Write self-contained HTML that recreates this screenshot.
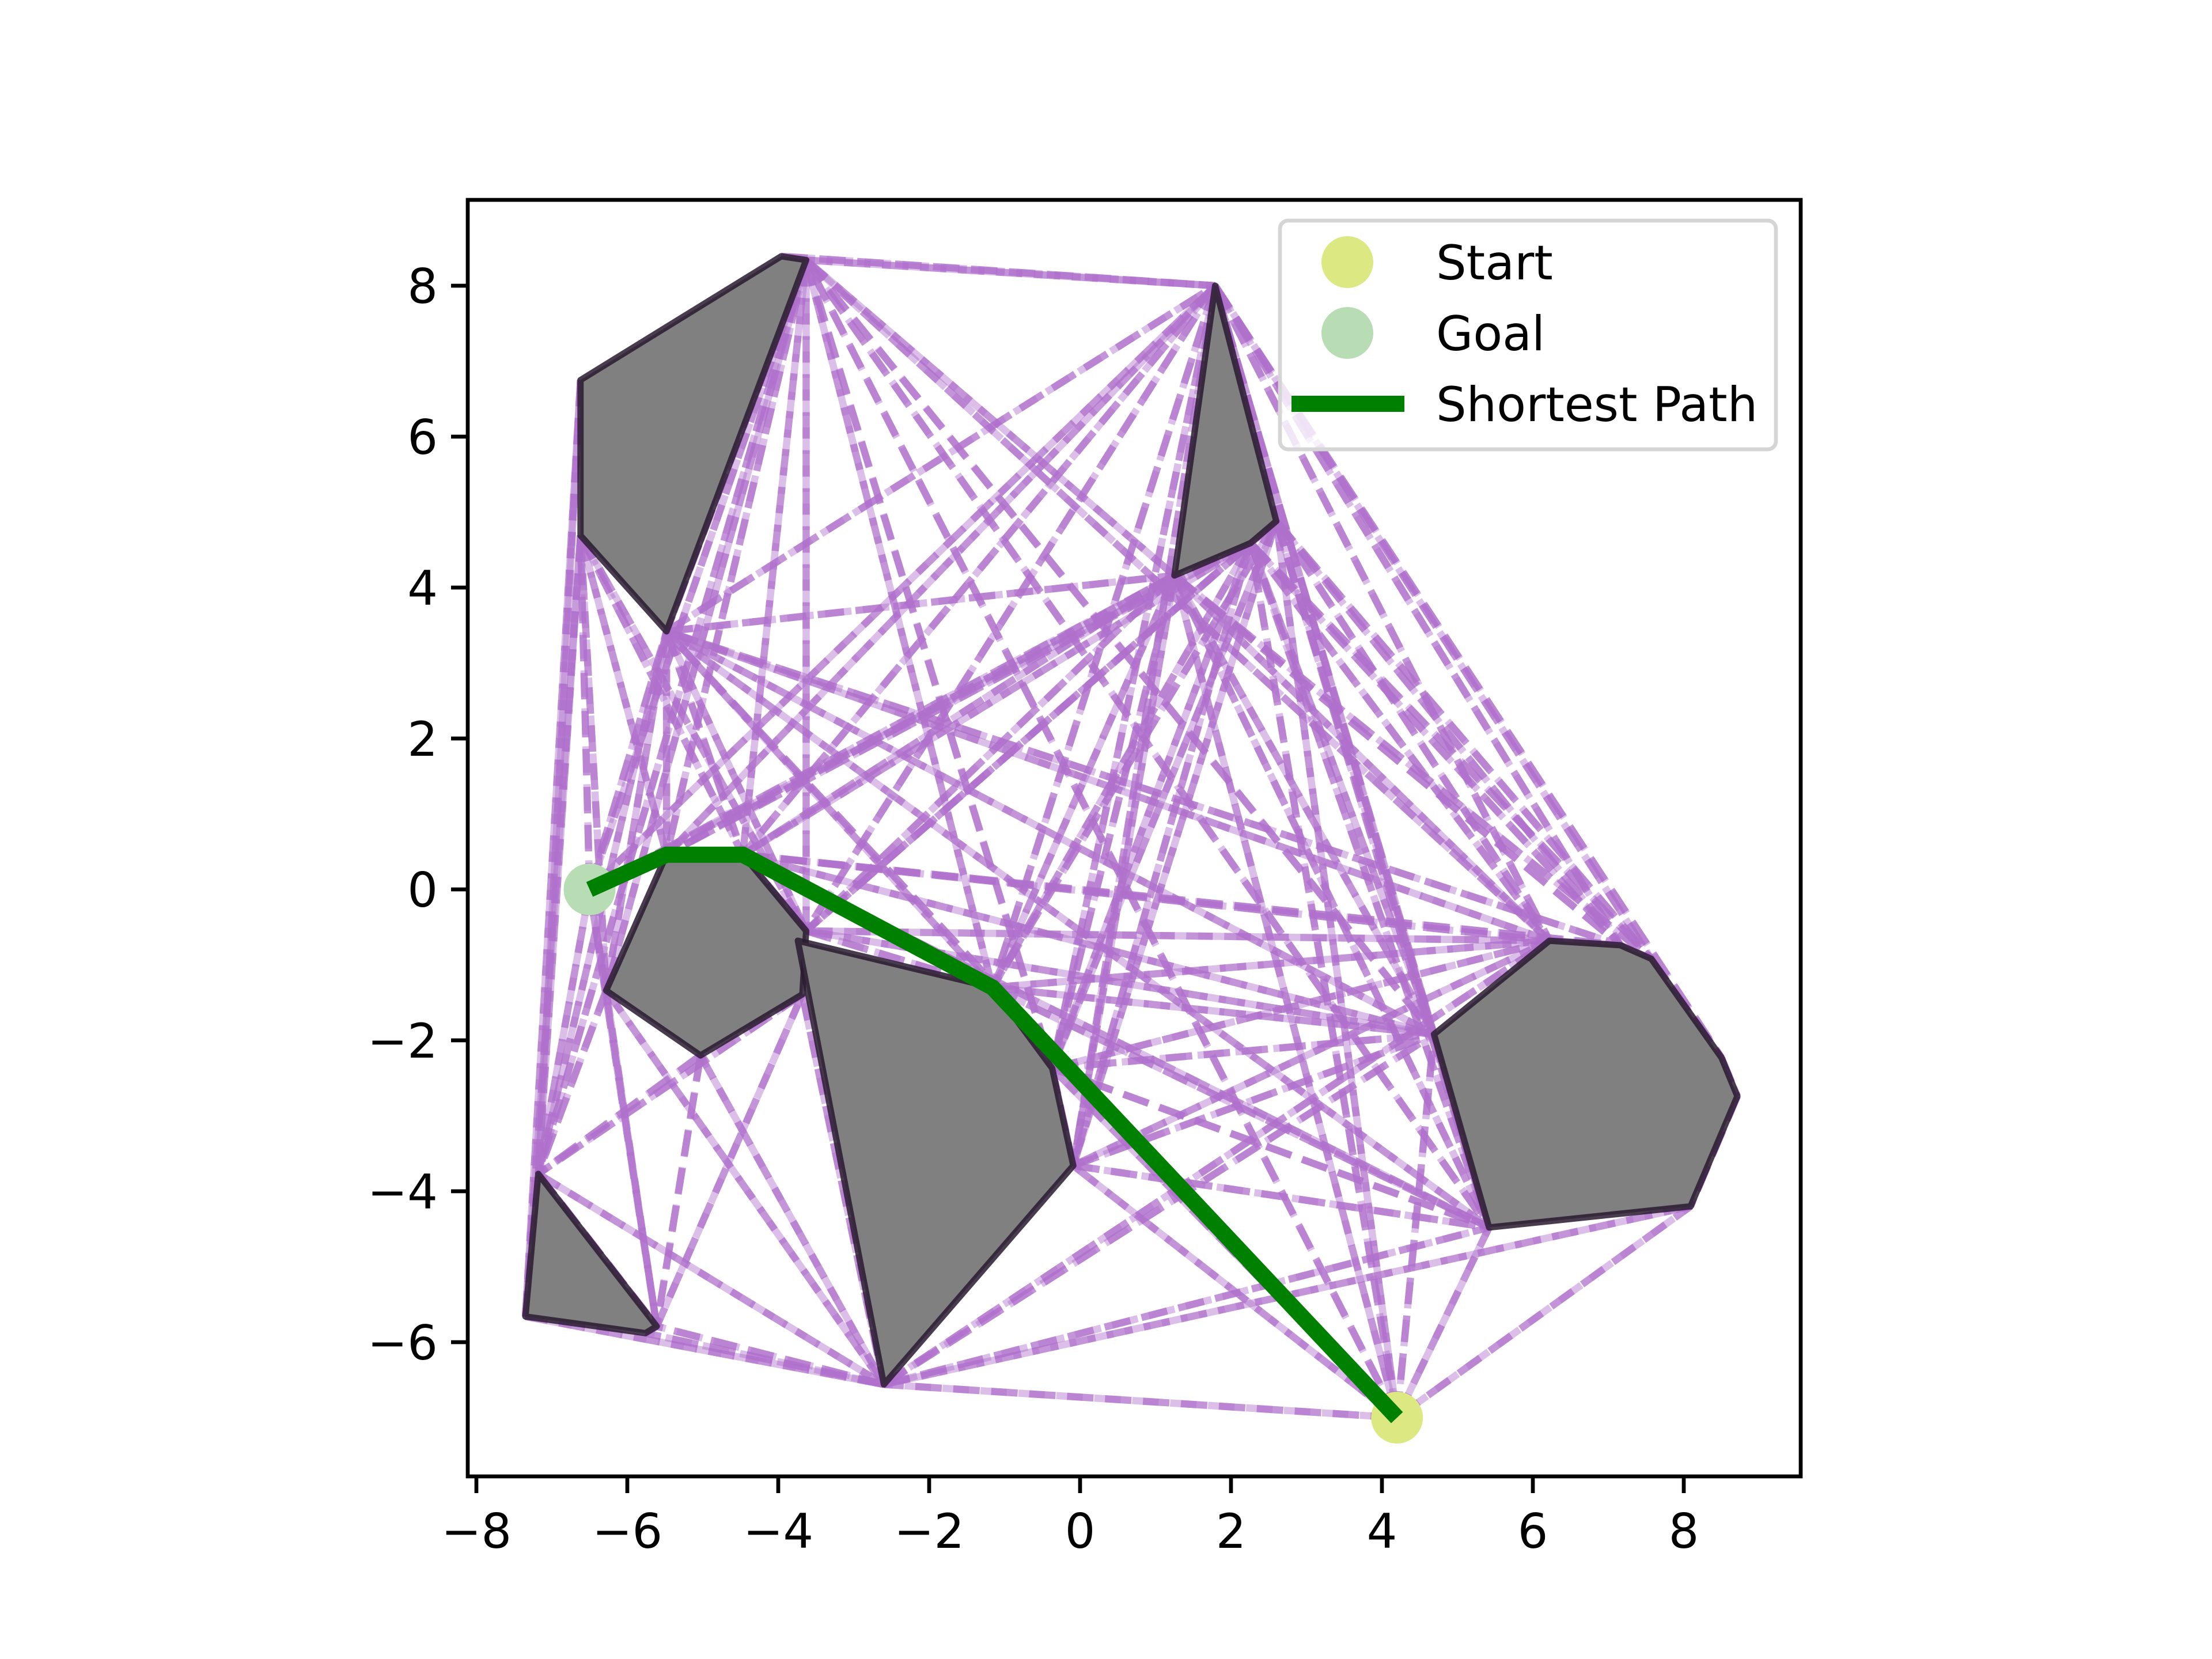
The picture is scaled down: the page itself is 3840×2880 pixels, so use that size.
<!DOCTYPE html>
<html><head><meta charset="utf-8"><style>
html,body{margin:0;padding:0;background:#fff;}
svg{display:block;}
text{font-family:"DejaVu Sans","Liberation Sans",sans-serif;}
</style></head><body>
<svg id="chart" width="3840" height="2880" viewBox="0 0 3840 2880" xmlns="http://www.w3.org/2000/svg">
<defs><clipPath id="clip"><rect x="812" y="347" width="2314" height="2216"/></clipPath></defs>
<rect x="0" y="0" width="3840" height="2880" fill="#fff"/>
<g id="edges" clip-path="url(#clip)"></g>
<g id="obstacles" clip-path="url(#clip)"></g>
<g id="pathg" clip-path="url(#clip)"></g>
<rect x="812" y="347" width="2314" height="2216" fill="none" stroke="#000" stroke-width="6.7"/>
<g id="xticks"></g>
<g id="yticks"></g>
<g>
  <rect x="2222" y="383" width="861" height="397" rx="14" fill="#fff" fill-opacity="0.8" stroke="#d5d5d5" stroke-width="6.7"/>
  <ellipse cx="2339" cy="455" rx="45" ry="45" fill="#dce882"/>
  <text x="2493" y="485" font-size="83">Start</text>
  <ellipse cx="2339" cy="578" rx="45" ry="45" fill="#b8dcb4"/>
  <text x="2493" y="608" font-size="83">Goal</text>
  <line x1="2242" y1="701" x2="2438" y2="701" stroke="#008000" stroke-width="28"/>
  <text x="2493" y="731" font-size="83">Shortest Path</text>
</g>
</svg>
<script>
const obs1=[[-6.62,6.75],[-3.96,8.39],[-3.63,8.34],[-5.48,3.42],[-6.62,4.69]];
const obs2=[[1.79,8.0],[2.60,4.88],[2.26,4.59],[1.25,4.16]];
const obs3=[[-5.48,0.46],[-4.47,0.46],[-3.63,-0.55],[-3.68,-1.39],[-5.03,-2.20],[-6.28,-1.34]];
const obs4=[[-3.74,-0.68],[-1.16,-1.30],[-0.37,-2.37],[-0.09,-3.66],[-2.60,-6.56]];
const obs5=[[-7.18,-3.77],[-5.61,-5.79],[-5.76,-5.88],[-7.35,-5.66]];
const obs6=[[4.69,-1.92],[6.22,-0.68],[7.16,-0.74],[7.57,-0.92],[8.50,-2.23],[8.71,-2.74],[8.09,-4.20],[5.42,-4.48]];
const startPt=[4.2,-7.0];
const goalPt=[-6.5,0.0];
const pathPts=[[-6.5,0.0],[-5.48,0.46],[-4.47,0.46],[-1.16,-1.30],[4.2,-7.0]];
const xTicks=[-8,-6,-4,-2,0,2,4,6,8];
const yTicks=[-6,-4,-2,0,2,4,6,8];

const U=131, X0=1875, Y0=1544;
const sx=v=>X0+v*U, sy=v=>Y0-v*U;
const NS="http://www.w3.org/2000/svg";
function mk(tag,attrs,parent){const e=document.createElementNS(NS,tag);for(const k in attrs)e.setAttribute(k,attrs[k]);parent.appendChild(e);return e;}

const polys=[obs1,obs2,obs3,obs4,obs5,obs6];
function cross(o,a,b){return (a[0]-o[0])*(b[1]-o[1])-(a[1]-o[1])*(b[0]-o[0]);}
function same(p,q){return Math.abs(p[0]-q[0])<1e-9&&Math.abs(p[1]-q[1])<1e-9;}
function properX(a,b,c,d){
  if(same(a,c)||same(a,d)||same(b,c)||same(b,d))return false;
  const d1=cross(c,d,a),d2=cross(c,d,b),d3=cross(a,b,c),d4=cross(a,b,d);
  return ((d1>0&&d2<0)||(d1<0&&d2>0))&&((d3>0&&d4<0)||(d3<0&&d4>0));
}
function inside(p,poly){let c=false;for(let i=0,j=poly.length-1;i<poly.length;j=i++){const a=poly[i],b=poly[j];if((a[1]>p[1])!=(b[1]>p[1])&&p[0]<(b[0]-a[0])*(p[1]-a[1])/(b[1]-a[1])+a[0])c=!c;}return c;}
function visible(a,b){
  for(const poly of polys){
    for(let i=0;i<poly.length;i++){if(properX(a,b,poly[i],poly[(i+1)%poly.length]))return false;}
    for(const t of [0.25,0.5,0.75]){const m=[a[0]+(b[0]-a[0])*t,a[1]+(b[1]-a[1])*t];if(inside(m,poly))return false;}
  }
  return true;
}
const verts=[startPt,goalPt];polys.forEach(p=>p.forEach(v=>verts.push(v)));
const eg=document.getElementById('edges');
for(let i=0;i<verts.length;i++)for(let j=i+1;j<verts.length;j++){
  const a=verts[i],b=verts[j];
  if(!visible(a,b))continue;
  const l=mk('line',{x1:sx(a[0]),y1:sy(a[1]),x2:sx(b[0]),y2:sy(b[1]),stroke:'#b070cc','stroke-opacity':'0.75','stroke-width':'12.5','stroke-dasharray':'46 20'},eg);
  
  
  const l2=mk('line',{x1:sx(b[0]),y1:sy(b[1]),x2:sx(a[0]),y2:sy(a[1]),stroke:'#b070cc','stroke-opacity':'0.45','stroke-width':'12.5','stroke-dasharray':'46 20','stroke-dashoffset':'30'},eg);
  
  
}
const og=document.getElementById('obstacles');
polys.forEach((p,k)=>{
  const pg=mk('polygon',{points:p.map(v=>sx(v[0])+','+sy(v[1])).join(' '),fill:'#808080',stroke:'#2a1a30','stroke-opacity':'0.85','stroke-width':'11','stroke-linejoin':'round'},og);
  
  
});
const pgp=document.getElementById('pathg');
const sm=mk('circle',{cx:sx(startPt[0]),cy:sy(startPt[1]),r:45,fill:'#dce882'},pgp);


const gm=mk('circle',{cx:sx(goalPt[0]),cy:sy(goalPt[1]),r:45,fill:'#b8dcb4'},pgp);


const pl=mk('polyline',{points:pathPts.map(v=>sx(v[0])+','+sy(v[1])).join(' '),fill:'none',stroke:'#008000','stroke-width':'28','stroke-linejoin':'miter'},pgp);



const xg=document.getElementById('xticks');
xTicks.forEach(t=>{
  const x=sx(t);
  const tk=mk('line',{x1:x,y1:2563,x2:x,y2:2592,stroke:'#000','stroke-width':'6.7'},xg);
  
  
  const tx=mk('text',{x:x,y:2687,'font-size':'83','text-anchor':'middle'},xg);
  tx.textContent=(t<0?'\u2212':'')+Math.abs(t);
  
  
});
const yg=document.getElementById('yticks');
yTicks.forEach(t=>{
  const y=sy(t);
  const tk=mk('line',{x1:812,y1:y,x2:783,y2:y,stroke:'#000','stroke-width':'6.7'},yg);
  
  
  const tx=mk('text',{x:760,y:y+30,'font-size':'83','text-anchor':'end'},yg);
  tx.textContent=(t<0?'\u2212':'')+Math.abs(t);
  
  
});
</script>
</body></html>
